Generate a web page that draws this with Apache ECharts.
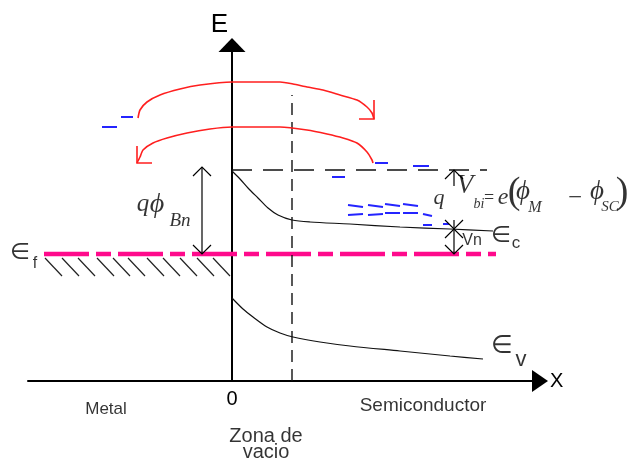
<!DOCTYPE html>
<html>
<head>
<meta charset="utf-8">
<script src="https://cdn.jsdelivr.net/npm/echarts@6/dist/echarts.min.js"></script>
<style>
  html, body { margin: 0; padding: 0; background: #fff; }
  #chart { width: 627px; height: 459px; }
</style>
</head>
<body>
<div id="chart"></div>
<script>
// Schottky contact band diagram (metal | semiconductor).
// Position x is measured from the metal surface (x = 0), energy E upward from the axis.

// Conduction band edge Ec in the semiconductor
const conductionBand = [[0, 210], [8, 202], [16, 193], [26, 183], [36, 173], [46, 166], [60, 161], [78, 159], [118, 157], [168, 154], [218, 152], [261, 150]];
// Valence band edge Ev
const valenceBand = [[0, 83], [11, 72], [21, 64], [35, 54], [48, 48], [61, 44], [88, 39], [118, 35], [168, 30], [218, 25], [251, 22]];
// Fermi level and its extent
const fermiLevel = 127;
const fermiSpan = [-188, 264];
// Barrier top (dashed level) and its extent
const barrierTop = 211;
const barrierSpan = [0, 255];
// Edge of the depletion zone
const depletionEdge = 60;
const depletionTop = 286;
// Electron flow: metal -> semiconductor (upper) and back (lower)
const emissionArc = [[-94, 263], [-92, 271], [-85, 279], [-72, 286], [-52, 292], [-32, 296], [0, 299], [48, 299], [61, 297], [75, 294], [91, 291], [108, 286], [125, 281], [135, 274], [140, 268], [142, 262]];
const returnArc = [[141, 218], [140, 221], [135, 229], [125, 238], [111, 243], [95, 247], [75, 251], [48, 254], [0, 254], [-22, 252], [-45, 248], [-65, 243], [-79, 238], [-89, 231], [-92, 224], [-95, 218]];
// Electrons drawn as short bars: [x0, y0, x1, y1]
const electrons = [
  [-130, 254, -115, 254], [-111, 264, -99, 264],
  [143, 218, 156, 218], [100, 204, 113, 204], [181, 215, 197, 215],
  [116, 176, 131, 174], [136, 176, 151, 174], [153, 177, 168, 175], [171, 177, 186, 175],
  [116, 166, 131, 167], [136, 166, 151, 167], [153, 168, 168, 168], [171, 168, 186, 168], [191, 167, 200, 165],
  [191, 156, 200, 156], [211, 157, 217, 157]
];
// Filled metal states below the Fermi level (hatch start positions)
const hatchStarts = [-187, -170, -154, -135, -119, -104, -85, -69, -52, -35, -19];
// Energy differences marked with arrows: [x, from, to]
const barrierHeight = [-30, fermiLevel, 214];
const builtInTop = [222, 195, barrierTop];
const builtInBottom = [222, 161, 152];
const vnGap = [222, 152, fermiLevel];

const chart = echarts.init(document.getElementById('chart'), null, { renderer: 'canvas' });

const sans = 'Liberation Sans, Arial, sans-serif';
const serif = 'Liberation Serif, DejaVu Serif, serif';
const math = 'DejaVu Sans, sans-serif';

function head(x, tip, dir) {
  // open V arrowhead; dir = +1 points up, -1 points down
  return { coords: [[x - 9, tip - dir * 9], [x, tip], [x + 9, tip - dir * 9]] };
}
function shaft(a) { return { coords: [[a[0], a[1]], [a[0], a[2]]] }; }

const arrowLines = [
  shaft(barrierHeight), head(barrierHeight[0], barrierHeight[2], 1), head(barrierHeight[0], barrierHeight[1], -1),
  shaft(builtInTop), head(builtInTop[0], builtInTop[2], 1),
  shaft(builtInBottom), head(builtInBottom[0], builtInBottom[2], -1),
  shaft(vnGap), head(vnGap[0], vnGap[1], 1), head(vnGap[0], vnGap[2], -1)
];

const hatch = hatchStarts.map(x => ({ coords: [[x, fermiLevel - 4], [x + 17, fermiLevel - 22]] }));
const electronBars = electrons.map(e => ({ coords: [[e[0], e[1]], [e[2], e[3]]] }));

const lastOf = a => a[a.length - 1];
const emitTip = lastOf(emissionArc);
const returnTip = lastOf(returnArc);

function txt(x, y, text, style) {
  return { value: [x, y], label: Object.assign({ show: true, formatter: text, position: 'inside', align: 'center', verticalAlign: 'middle', color: '#000' }, style) };
}
const it = size => ({ fontFamily: serif, fontStyle: 'italic', fontSize: size });
const up = size => ({ fontFamily: serif, fontSize: size });

const texts = [
  txt(-126, -28, 'Metal', { fontFamily: sans, fontSize: 17 }),
  txt(191, -25, 'Semiconductor', { fontFamily: sans, fontSize: 19 }),
  txt(34, -63, 'Zona de\nvacio', { fontFamily: sans, fontSize: 20, lineHeight: 16 }),
  txt(240, 140, 'Vn', { fontFamily: sans, fontSize: 16 }),
  // band labels
  txt(269, 145, '∈', { fontFamily: math, fontSize: 23 }),
  txt(284, 138, 'c', { fontFamily: sans, fontSize: 17 }),
  txt(270, 35, '∈', { fontFamily: math, fontSize: 25 }),
  txt(289, 21, 'v', { fontFamily: sans, fontSize: 22 }),
  txt(-212, 128, '∈', { fontFamily: math, fontSize: 23 }),
  txt(-197, 117, 'f', { fontFamily: sans, fontSize: 16 }),
  // barrier height  qϕBn
  txt(-89, 177, 'q', it(25)),
  txt(-75, 176, 'ϕ', it(28)),
  txt(-52, 160, 'Bn', it(19)),
  // built-in potential  qVbi = e(ϕM − ϕSC)
  txt(207, 183, 'q', it(22)),
  txt(233, 195, 'V', it(27)),
  txt(247, 177, 'bi', it(14)),
  txt(257, 183, '=', up(18)),
  txt(271, 183, 'e', it(24)),
  txt(282, 188, '(', up(38)),
  txt(291, 189, 'ϕ', it(27)),
  txt(303, 173, 'M', it(16)),
  txt(343, 183, '−', up(25)),
  txt(365, 189, 'ϕ', it(27)),
  txt(378, 174, 'SC', it(15)),
  txt(390, 188, ')', up(38))
];

const option = {
  backgroundColor: '#fff',
  animation: false,
  grid: { left: 28, right: 87, top: 45, bottom: 78 },
  xAxis: {
    type: 'value', min: -204, max: 308,
    name: 'X', nameLocation: 'end', nameGap: 10,
    nameTextStyle: { fontFamily: sans, fontSize: 20, color: '#000', verticalAlign: 'middle' },
    splitLine: { show: false }, axisTick: { show: false },
    axisLine: { onZero: true, lineStyle: { color: '#000', width: 2 }, symbol: ['none', 'triangle'], symbolSize: [22, 16] },
    axisLabel: { customValues: [0], fontFamily: sans, fontSize: 20, color: '#000', margin: 8 }
  },
  yAxis: {
    type: 'value', min: 0, max: 336,
    name: 'E', nameLocation: 'end', nameGap: 7,
    nameTextStyle: { fontFamily: sans, fontSize: 26, color: '#000', padding: [0, 25, 0, 0] },
    splitLine: { show: false }, axisTick: { show: false }, axisLabel: { show: false },
    axisLine: { onZero: true, lineStyle: { color: '#000', width: 2 }, symbol: ['none', 'triangle'], symbolSize: [27, 14] }
  },
  series: [
    {
      type: 'line', name: 'Ec', data: conductionBand, smooth: 0.3, showSymbol: false,
      lineStyle: { color: '#111', width: 1.2 }, silent: true
    },
    {
      type: 'line', name: 'Ev', data: valenceBand, smooth: 0.3, showSymbol: false,
      lineStyle: { color: '#111', width: 1.2 }, silent: true
    },
    {
      type: 'line', name: 'Ef', data: [[fermiSpan[0], fermiLevel], [fermiSpan[1], fermiLevel]], showSymbol: false,
      lineStyle: { color: '#ff0a8c', width: 4.5, type: [45, 7, 15, 7] }, z: 3, silent: true
    },
    {
      type: 'line', name: 'barrier', data: [[barrierSpan[0], barrierTop], [barrierSpan[1], barrierTop]], showSymbol: false,
      lineStyle: { color: '#111', width: 1.4, type: [20, 11] }, silent: true
    },
    {
      type: 'line', name: 'depletion', data: [[depletionEdge, 0], [depletionEdge, depletionTop]], showSymbol: false,
      lineStyle: { color: '#111', width: 1.4, type: [12, 7] }, silent: true
    },
    {
      type: 'line', name: 'emission', data: emissionArc, smooth: 0.2, showSymbol: false,
      lineStyle: { color: '#ff1f1f', width: 1.6 }, silent: true
    },
    {
      type: 'line', name: 'return', data: returnArc, smooth: 0.2, showSymbol: false,
      lineStyle: { color: '#ff1f1f', width: 1.6 }, silent: true
    },
    {
      type: 'lines', coordinateSystem: 'cartesian2d', polyline: true, silent: true,
      lineStyle: { color: '#ff1f1f', width: 1.6, opacity: 1 },
      data: [
        { coords: [[emitTip[0], emitTip[1] + 19], emitTip, [emitTip[0] - 15, emitTip[1]]] },
        { coords: [[returnTip[0], returnTip[1] + 17], returnTip, [returnTip[0] + 15, returnTip[1]]] }
      ]
    },
    {
      type: 'lines', coordinateSystem: 'cartesian2d', silent: true,
      lineStyle: { color: '#222', width: 1.2, opacity: 1 }, data: hatch
    },
    {
      type: 'lines', coordinateSystem: 'cartesian2d', silent: true,
      lineStyle: { color: '#2424ff', width: 2, opacity: 1 }, data: electronBars
    },
    {
      type: 'lines', coordinateSystem: 'cartesian2d', polyline: true, silent: true,
      lineStyle: { color: '#000', width: 1.2, opacity: 1 }, data: arrowLines, z: 4
    },
    {
      type: 'scatter', symbolSize: 0, silent: true, clip: false, z: 5, data: texts
    }
  ]
};

chart.setOption(option);
</script>
</body>
</html>
